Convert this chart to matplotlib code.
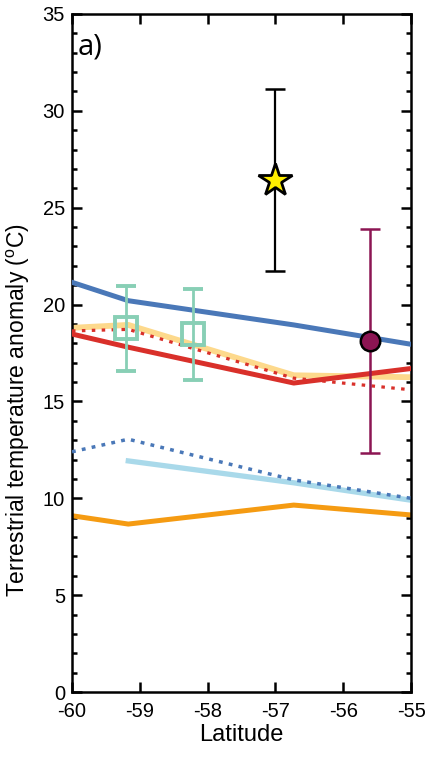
import numpy as np
import matplotlib
matplotlib.use('Agg')
import matplotlib.pyplot as plt
from matplotlib.ticker import MultipleLocator

plt.rcParams['font.family'] = ['Liberation Sans', 'DejaVu Sans']
plt.rcParams['mathtext.fontset'] = 'custom'
plt.rcParams['mathtext.rm'] = 'Liberation Sans'
plt.rcParams['axes.unicode_minus'] = False

# model latitudes
lat_full = [-60, -59.17, -56.73, -55]
lat_part = [-59.17, -56.73, -55]

blue_solid = [21.15, 20.2, 18.95, 17.95]
blue_dotted = [12.4, 13.05, 10.95, 10.0]
light_blue = [11.93, 10.8, 9.9]
orange = [9.1, 8.67, 9.65, 9.14]
yellow = [18.8, 18.95, 16.35, 16.25]
red_solid = [18.48, 17.8, 15.95, 16.7]
red_dotted = [18.64, 18.72, 16.2, 15.6]

# proxy estimates
sq_lat = [-59.21, -58.22]
sq_val = [18.77, 18.47]
sq_lo = [16.57, 16.1]
sq_hi = [20.96, 20.8]

star_lat = -57.0
star_val = 26.43
star_lo = 21.73
star_hi = 31.13

circ_lat = -55.61
circ_val = 18.12
circ_lo = 12.34
circ_hi = 23.9

fig = plt.figure(figsize=(4.26, 7.64), dpi=100)
ax = fig.add_axes([0.169, 0.0942, 0.796, 0.8875])

ax.plot(lat_full, orange, color='#f59b12', lw=3.6, zorder=2)
ax.plot(lat_part, light_blue, color='#a9d9ea', lw=3.8, zorder=2)
ax.plot(lat_full, blue_dotted, color='#4a78b8', lw=2.5, dashes=(1.1, 1.8), zorder=3)
ax.plot(lat_full, yellow, color='#fdd98c', lw=4.2, zorder=2)
ax.plot(lat_full, red_dotted, color='#d9302a', lw=2.3, dashes=(1.1, 2.0), zorder=3)
ax.plot(lat_full, red_solid, color='#d9302a', lw=3.6, zorder=3)
ax.plot(lat_full, blue_solid, color='#4a78b8', lw=3.6, zorder=3)

sq_err = [np.array(sq_val) - np.array(sq_lo), np.array(sq_hi) - np.array(sq_val)]
ax.errorbar(sq_lat, sq_val, yerr=sq_err, fmt='s', color='#88cfb5', mfc='none',
            mec='#88cfb5', mew=2.8, ms=16, elinewidth=2, capsize=7, capthick=2, zorder=4)

ax.errorbar([star_lat], [star_val], yerr=[[star_val - star_lo], [star_hi - star_val]],
            fmt='none', ecolor='black', elinewidth=1.6, capsize=7, capthick=1.8, zorder=4)
ax.plot([star_lat], [star_val], marker='*', ms=25, mfc='#ffee00', mec='black', mew=2,
        ls='none', zorder=5)

ax.errorbar([circ_lat], [circ_val], yerr=[[circ_val - circ_lo], [circ_hi - circ_val]],
            fmt='none', ecolor='#8c1553', elinewidth=1.8, capsize=7, capthick=1.8, zorder=4)
ax.plot([circ_lat], [circ_val], marker='o', ms=14, mfc='#8c1553', mec='black', mew=1.8,
        ls='none', zorder=5)

ax.set_xlim(-60, -55)
ax.set_ylim(0, 35)
ax.xaxis.set_major_locator(MultipleLocator(1))
ax.yaxis.set_major_locator(MultipleLocator(5))
ax.yaxis.set_minor_locator(MultipleLocator(1))
ax.tick_params(which='both', direction='in', top=True, right=True, width=1.8, labelsize=14.5)
ax.tick_params(which='major', length=7)
ax.tick_params(which='minor', length=3.5)
ax.tick_params(axis='x', pad=7)
ax.tick_params(axis='y', pad=5)
for sp in ax.spines.values():
    sp.set_linewidth(1.8)

ax.set_xlabel('Latitude', fontsize=17, labelpad=2)
ax.set_ylabel(r'Terrestrial temperature anomaly ($^{\rm o}$C)', fontsize=16.5)
ax.yaxis.set_label_coords(-0.117, 0.416)

ax.text(0.018, 0.972, 'a)', transform=ax.transAxes, ha='left', va='top',
        fontsize=21, family=['Open Sans', 'DejaVu Sans'])

fig.savefig('out.png', dpi=100)
